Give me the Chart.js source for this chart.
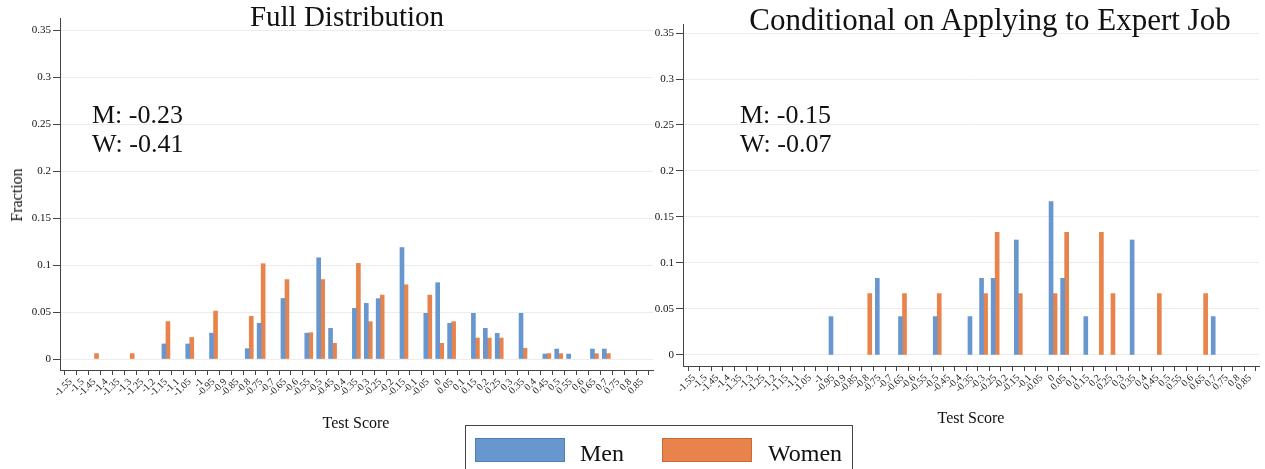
<!DOCTYPE html>
<html>
<head>
<meta charset="utf-8">
<script src="https://cdn.jsdelivr.net/npm/chart.js@4"></script>
<style>
  body { margin: 0; background: #fff; width: 1265px; height: 469px; overflow: hidden; position: relative;
         font-family: "Liberation Serif", "Times New Roman", serif; color: #111; }
  canvas { position: absolute; top: 0; }
  .t { position: absolute; line-height: 1; white-space: nowrap; }
  .legend { position: absolute; left: 465px; top: 425px; width: 388px; height: 60px;
            border: 1.5px solid #444; box-sizing: border-box; }
  .sw { position: absolute; top: 12px; width: 90px; height: 24px; box-sizing: border-box; }
</style>
</head>
<body>
<canvas id="full" width="660" height="469" style="left:0"></canvas>
<canvas id="expert" width="645" height="469" style="left:620px"></canvas>

<div class="t" id="title1" style="font-size:29px;top:2px;left:347px;transform:translateX(-50%)"></div>
<div class="t" id="title2" style="font-size:31px;top:4px;left:990px;transform:translateX(-50%)"></div>
<div class="t" id="m1" style="font-size:26px;left:92px;top:102px"></div>
<div class="t" id="w1" style="font-size:26px;left:92px;top:131px"></div>
<div class="t" id="m2" style="font-size:26px;left:740px;top:102px"></div>
<div class="t" id="w2" style="font-size:26px;left:740px;top:131px"></div>
<div class="t" style="font-size:16px;left:17px;top:195px;transform:translate(-50%,-50%) rotate(-90deg)">Fraction</div>
<div class="t" style="font-size:16px;left:356px;top:415px;transform:translateX(-50%)">Test Score</div>
<div class="t" style="font-size:16px;left:971px;top:410px;transform:translateX(-50%)">Test Score</div>

<div class="legend">
  <div class="sw" id="sw1" style="left:9px"></div>
  <div class="t" id="lg1" style="font-size:24px;left:114px;top:15px"></div>
  <div class="sw" id="sw2" style="left:196px"></div>
  <div class="t" id="lg2" style="font-size:24px;left:302px;top:15px"></div>
</div>

<script>
// test score bins (also the x tick labels)
const scores = [-1.55, -1.5, -1.45, -1.4, -1.35, -1.3, -1.25, -1.2, -1.15, -1.1,
  -1.05, -1, -0.95, -0.9, -0.85, -0.8, -0.75, -0.7, -0.65, -0.6,
  -0.55, -0.5, -0.45, -0.4, -0.35, -0.3, -0.25, -0.2, -0.15, -0.1,
  -0.05, 0, 0.05, 0.1, 0.15, 0.2, 0.25, 0.3, 0.35, 0.4,
  0.45, 0.5, 0.55, 0.6, 0.65, 0.7, 0.75, 0.8, 0.85];

const yTicks = [0, 0.05, 0.1, 0.15, 0.2, 0.25, 0.3, 0.35];
const seriesNames = ['Men', 'Women'];
const panelTitles = ['Full Distribution', 'Conditional on Applying to Expert Job'];
const meansFull = ['-0.23', '-0.41'];
const meansExpert = ['-0.15', '-0.07'];

// fraction per bin, full distribution
const fullMen = [0, 0, 0, 0, 0, 0, 0, 0, 0.016, 0,
  0.016, 0, 0.0275, 0, 0, 0.011, 0.038, 0, 0.0644, 0,
  0.0275, 0.1077, 0.0326, 0, 0.0539, 0.0592, 0.0642, 0, 0.1186, 0,
  0.0486, 0.0812, 0.038, 0, 0.0486, 0.0326, 0.0273, 0, 0.0486, 0,
  0.0053, 0.0106, 0.0053, 0, 0.0106, 0.0106, 0, 0, 0];
const fullWomen = [0, 0, 0.0057, 0, 0, 0.0057, 0, 0, 0.0398, 0,
  0.0229, 0, 0.051, 0, 0, 0.0454, 0.1014, 0, 0.0845, 0,
  0.028, 0.0845, 0.0167, 0, 0.1018, 0.0397, 0.068, 0, 0.079, 0,
  0.068, 0.0167, 0.0397, 0, 0.0223, 0.0223, 0.0223, 0, 0.0113, 0,
  0.0057, 0.0057, 0, 0, 0.0057, 0.0057, 0, 0, 0];

// fraction per bin, applicants to the expert job
const expertMen = [0, 0, 0, 0, 0, 0, 0, 0, 0, 0,
  0, 0, 0.0417, 0, 0, 0, 0.0833, 0, 0.0417, 0,
  0, 0.0417, 0, 0, 0.0417, 0.0833, 0.0833, 0, 0.125, 0,
  0, 0.1667, 0.0833, 0, 0.0417, 0, 0, 0, 0.125, 0,
  0, 0, 0, 0, 0, 0.0417, 0, 0, 0];
const expertWomen = [0, 0, 0, 0, 0, 0, 0, 0, 0, 0,
  0, 0, 0, 0, 0, 0.0667, 0, 0, 0.0667, 0,
  0, 0.0667, 0, 0, 0, 0.0667, 0.1333, 0, 0.0667, 0,
  0, 0.0667, 0.1333, 0, 0, 0.1333, 0.0667, 0, 0, 0,
  0.0667, 0, 0, 0, 0.0667, 0, 0, 0, 0];

const blue = '#6897d0';
const orange = '#e8834b';
const family = '"Liberation Serif", "Times New Roman", serif';

// empty bins are skipped so no stub is drawn on the zero line
const points = vals => scores.map((s, i) => ({ x: s, y: vals[i] || null }));

function panel(id, men, women, o) {
  return new Chart(document.getElementById(id), {
    type: 'bar',
    data: {
      datasets: [
        { label: seriesNames[0], data: points(men), backgroundColor: blue, barThickness: 4 },
        { label: seriesNames[1], data: points(women), backgroundColor: orange, barThickness: 4 }
      ]
    },
    options: {
      responsive: false,
      animation: false,
      layout: { padding: { top: o.top, right: o.right, left: 0, bottom: 0 } },
      plugins: { legend: { display: false }, tooltip: { enabled: false } },
      scales: {
        x: {
          type: 'linear', min: o.xmin, max: o.xmax, offset: false,
          afterBuildTicks: s => { s.ticks = scores.map(v => ({ value: v })); },
          afterFit: s => { s.height = o.xh; },
          ticks: { autoSkip: false, minRotation: 45, maxRotation: 45, padding: 1,
                   font: { family, size: 10 }, color: '#222',
                   callback: (v, i) => String(scores[i]) },
          grid: { drawOnChartArea: false, tickLength: 5, tickColor: '#444' },
          border: { color: '#444', width: 1 }
        },
        y: {
          min: o.ymin, max: o.ymax,
          afterBuildTicks: s => { s.ticks = yTicks.map(v => ({ value: v })); },
          afterFit: s => { s.width = o.yw; },
          ticks: { font: { family, size: 11 }, color: '#111', padding: 2,
                   callback: v => String(+v.toFixed(2)) },
          grid: { color: '#ececec', tickColor: '#444', tickLength: 7 },
          border: { color: '#444', width: 1 }
        }
      }
    }
  });
}

panel('full', fullMen, fullWomen,
  { xmin: -1.595, xmax: 0.896, ymin: -0.0117, ymax: 0.3628, top: 18, right: 7, yw: 60, xh: 99 });
panel('expert', expertMen, expertWomen,
  { xmin: -1.5975, xmax: 0.889, ymin: -0.012, ymax: 0.3598, top: 24, right: 6, yw: 63, xh: 103 });

document.getElementById('title1').textContent = panelTitles[0];
document.getElementById('title2').textContent = panelTitles[1];
document.getElementById('m1').textContent = 'M: ' + meansFull[0];
document.getElementById('w1').textContent = 'W: ' + meansFull[1];
document.getElementById('m2').textContent = 'M: ' + meansExpert[0];
document.getElementById('w2').textContent = 'W: ' + meansExpert[1];
document.getElementById('lg1').textContent = seriesNames[0];
document.getElementById('lg2').textContent = seriesNames[1];
document.getElementById('sw1').style.cssText += ';background:' + blue + ';border:1px solid #4f7fb8';
document.getElementById('sw2').style.cssText += ';background:' + orange + ';border:1px solid #c9683a';
</script>
</body>
</html>
